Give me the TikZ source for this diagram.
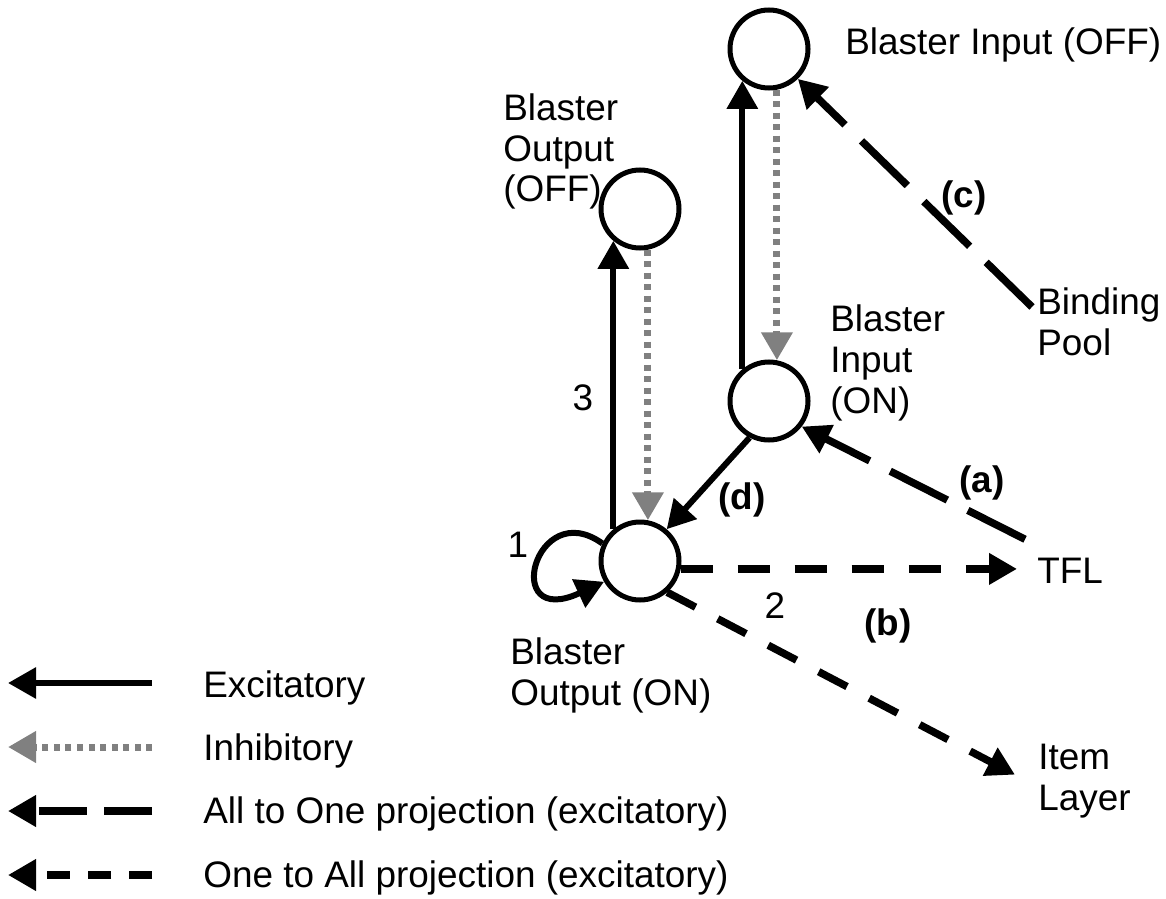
\documentclass[tikz,border=0pt]{standalone}
\usepackage{fontspec}
\setmainfont{Liberation Sans}
\usepackage{xcolor}
\usetikzlibrary{arrows.meta,positioning}
\definecolor{inhgray}{RGB}{128,128,128}

\begin{document}
\begin{tikzpicture}[
      x=0.2mm, y=-0.2mm,
      neuron/.style = {draw, circle, line width=1mm, minimum size=15.6mm,
                       inner sep=0pt},
      lbl/.style = {inner sep=0pt, anchor=base west, align=left,
                    font=\fontsize{21pt}{23.3pt}\selectfont},
      tag/.style = {inner sep=0pt, font=\fontsize{21pt}{23.3pt}\selectfont\bfseries},
      num/.style = {inner sep=0pt, font=\fontsize{21pt}{23.3pt}\selectfont},
      legtext/.style = {inner sep=0pt, anchor=base west,
                        font=\fontsize{21pt}{24pt}\selectfont},
      excit/.style = {-{Triangle[length=5.6mm,width=6mm]}, line width=1.2mm},
      inhib/.style = {-{Triangle[length=5.6mm,width=6mm]}, line width=1.4mm,
                      color=inhgray, dash pattern=on 1.2mm off 1.1mm},
      alltoone/.style = {-{Triangle[length=5.6mm,width=6mm]}, line width=1.5mm,
                         dash pattern=on 12.8mm off 4.6mm},
      onetoall/.style = {-{Triangle[length=5.6mm,width=6mm]}, line width=1.5mm,
                         dash pattern=on 6.4mm off 5mm},
      legalltoone/.style = {alltoone, dash pattern=on 9.6mm off 3.4mm},
      legonetoall/.style = {onetoall, dash pattern=on 4.6mm off 3.6mm}
    ]
    \useasboundingbox (0,0) rectangle (1166,899);

    % neurons
    \node[neuron] (BIoff) at (769,49)  {};
    \node[neuron] (BOoff) at (640,209) {};
    \node[neuron] (BIon)  at (769,401) {};
    \node[neuron] (BOon)  at (640,561) {};

    % names (base = last line)
    \node[lbl] (BIoffTxt) at (845,55)  {Blaster Input (OFF)};
    \node[lbl] (BOoffTxt) at (503,202) {Blaster\\Output\\(OFF)};
    \node[lbl] (BIonTxt)  at (830,413) {Blaster\\Input\\(ON)};
    \node[lbl] (BOonTxt)  at (510,705) {Blaster\\Output (ON)};
    \node[lbl] (bp)       at (1037,355) {Binding\\Pool};
    \node[lbl] (tfl)      at (1037,583) {TFL};
    \node[lbl] (item)     at (1038,810) {Item\\Layer};

    % tags
    \node[tag] (tagA) at (982,483) {(a)};
    \node[tag] (tagB) at (888,626) {(b)};
    \node[tag] (tagC) at (964,198) {(c)};
    \node[tag] (tagD) at (742,500) {(d)};
    \node[num] (n1) at (518,545) {1};
    \node[num] (n2) at (775,606) {2};
    \node[num] (n3) at (583,398) {3};

    % connections
    \draw[excit] (BOon.130) -- (BOoff.230);
    \draw[inhib] (BOoff.281) -- (BOon.79);
    \draw[excit] (BIon.130) -- (BIoff.230);
    \draw[inhib] (BIoff.281) -- (BIon.79);
    \draw[excit] (BIon.242) -- (BOon.50);
    \draw[excit] (BOon.155) .. controls (535,495) and (500,630) .. (BOon.210);

    \draw[alltoone] ([shift={(-1mm,-4mm)}]bp.north west) -- (BIoff.314);
    \draw[alltoone] ([shift={(-2.4mm,3.6mm)}]tfl.north west) -- (BIon.322);

    \coordinate (tflin) at ([xshift=-4mm]tfl.west);
    \draw[onetoall] (BOon.349) -- (BOon.349 -| tflin);
    \draw[onetoall] (BOon.311) -- ([shift={(-4.6mm,1.2mm)}]item.west);

    % legend
    \coordinate (lgA1) at (152,683); \coordinate (lgA0) at (8,683);
    \coordinate (lgB1) at (152,747); \coordinate (lgB0) at (8,747);
    \coordinate (lgC1) at (152,811); \coordinate (lgC0) at (8,811);
    \coordinate (lgD1) at (152,875); \coordinate (lgD0) at (8,875);
    \draw[excit]       (lgA1) -- (lgA0);
    \draw[inhib]       (lgB1) -- (lgB0);
    \draw[legalltoone] (lgC1) -- (lgC0);
    \draw[legonetoall] (lgD1) -- (lgD0);
    \node[legtext] (legExc) at (203,697) {Excitatory};
    \node[legtext] (legInh) at (203,760) {Inhibitory};
    \node[legtext] (legAtO) at (203,823) {All to One projection (excitatory)};
    \node[legtext] (legOtA) at (203,887) {One to All projection (excitatory)};
  \end{tikzpicture}
\end{document}
